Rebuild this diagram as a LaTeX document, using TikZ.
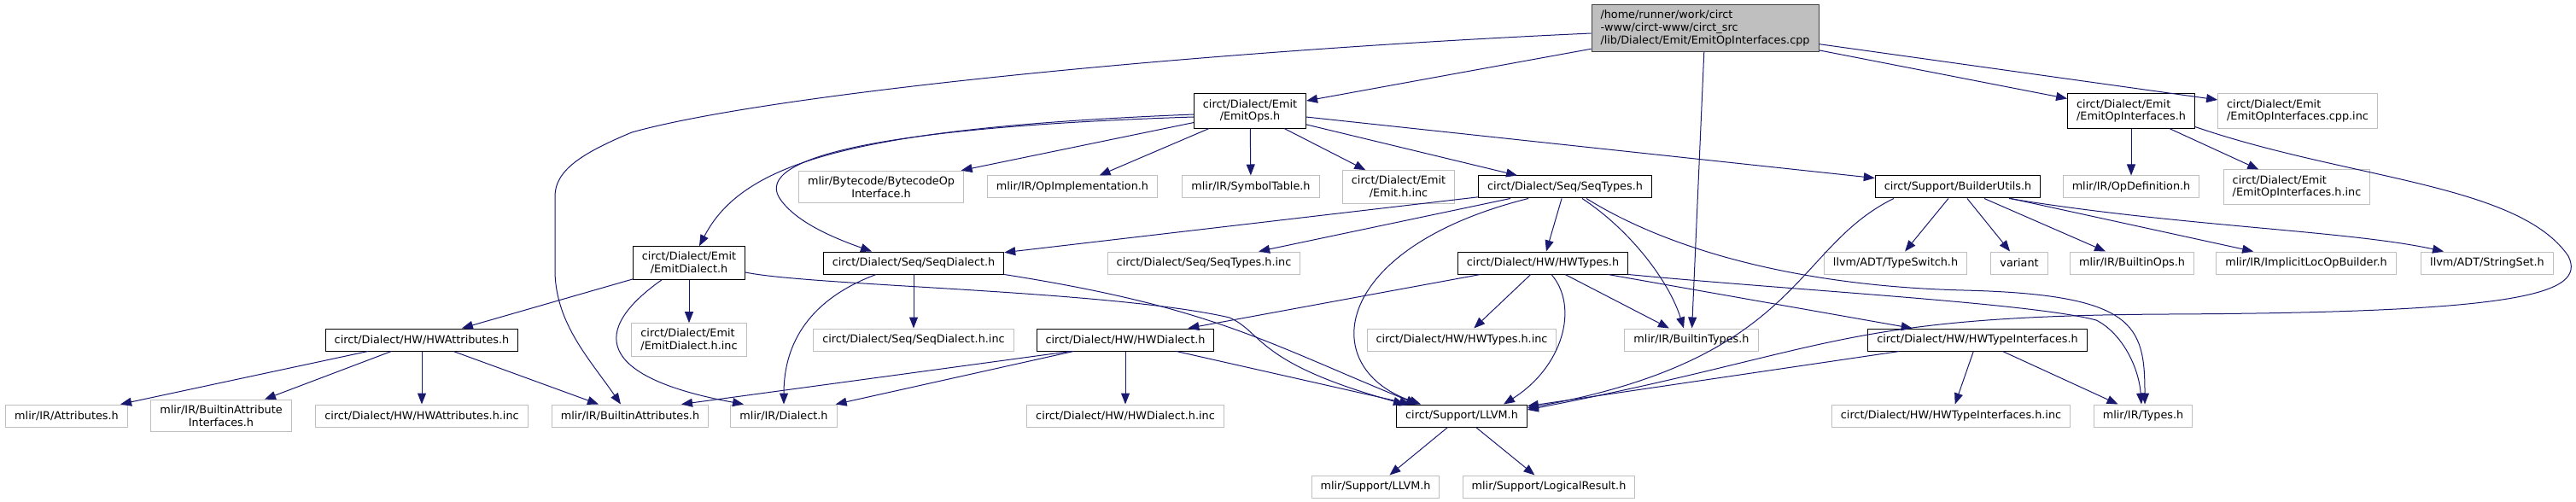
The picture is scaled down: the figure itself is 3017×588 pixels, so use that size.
\documentclass[tikz,border=0pt]{standalone}
\usepackage{fontspec}
\setmainfont{DejaVu Sans}
\usepackage{tikz}
\usetikzlibrary{arrows.meta}
\definecolor{midnight}{HTML}{191970}
\definecolor{extgrey}{HTML}{BFBFBF}
\definecolor{rootline}{HTML}{404040}

\begin{document}
\begin{tikzpicture}[x=1pt, y=-1pt,
    file/.style={draw=black, fill=white, line width=1pt, inner xsep=10.5pt, inner ysep=6.5pt,
        minimum height=26pt, font=\fontsize{12.8}{14.7}\selectfont},
    extfile/.style={file, draw=extgrey},
    mainfile/.style={file, draw=rootline, fill=extgrey, align=left},
    dep/.style={draw=midnight, line width=1pt, -{Triangle[length=13pt,width=10pt]}}]
    \useasboundingbox (0,0) rectangle (3017,588);

    % 1. The source file and the headers it pulls in directly
    \node[mainfile] (root) at (1997,33) {/home/runner/work/circt\\-www/circt-www/circt\_src\\/lib/Dialect/Emit/EmitOpInterfaces.cpp};
    \node[file, align=center] (emitops) at (1464,130) {circt/Dialect/Emit\\/EmitOps.h};
    \node[file, align=left] (eoih) at (2496,130) {circt/Dialect/Emit\\/EmitOpInterfaces.h};
    \node[extfile, align=left] (eoicppinc) at (2691,130) {circt/Dialect/Emit\\/EmitOpInterfaces.cpp.inc};

    % 2. Second row
    \node[extfile, align=center] (bytecode) at (1032,219) {mlir/Bytecode/BytecodeOp\\Interface.h};
    \node[extfile] (opimpl) at (1256,219) {mlir/IR/OpImplementation.h};
    \node[extfile] (symtab) at (1465,219) {mlir/IR/SymbolTable.h};
    \node[extfile, align=center] (emitinc) at (1638,219) {circt/Dialect/Emit\\/Emit.h.inc};
    \node[file] (seqtypes) at (1833,219) {circt/Dialect/Seq/SeqTypes.h};
    \node[file] (builder) at (2293,219) {circt/Support/BuilderUtils.h};
    \node[extfile] (opdef) at (2496,219) {mlir/IR/OpDefinition.h};
    \node[extfile, align=left] (eoihinc) at (2690,219) {circt/Dialect/Emit\\/EmitOpInterfaces.h.inc};

    % 3. Third row
    \node[file, align=center] (emitdialect) at (807,308) {circt/Dialect/Emit\\/EmitDialect.h};
    \node[file] (seqdialect) at (1070,308) {circt/Dialect/Seq/SeqDialect.h};
    \node[extfile] (seqtypesinc) at (1410,308) {circt/Dialect/Seq/SeqTypes.h.inc};
    \node[file] (hwtypes) at (1807,308) {circt/Dialect/HW/HWTypes.h};
    \node[extfile] (typeswitch) at (2220,308) {llvm/ADT/TypeSwitch.h};
    \node[extfile] (variant) at (2365,308) {variant};
    \node[extfile] (builtinops) at (2497,308) {mlir/IR/BuiltinOps.h};
    \node[extfile] (implicitloc) at (2701,308) {mlir/IR/ImplicitLocOpBuilder.h};
    \node[extfile] (stringset) at (2913,308) {llvm/ADT/StringSet.h};

    % 4. Fourth row
    \node[file] (hwattrs) at (494,398) {circt/Dialect/HW/HWAttributes.h};
    \node[extfile, align=left] (emitdialectinc) at (807,398) {circt/Dialect/Emit\\/EmitDialect.h.inc};
    \node[extfile] (seqdialectinc) at (1070,398) {circt/Dialect/Seq/SeqDialect.h.inc};
    \node[file] (hwdialect) at (1318,398) {circt/Dialect/HW/HWDialect.h};
    \node[extfile] (hwtypesinc) at (1712,398) {circt/Dialect/HW/HWTypes.h.inc};
    \node[extfile] (builtintypes) at (1981,398) {mlir/IR/BuiltinTypes.h};
    \node[file] (hwtypeifaces) at (2316,398) {circt/Dialect/HW/HWTypeInterfaces.h};

    % 5. Fifth row
    \node[extfile] (attributes) at (78,487) {mlir/IR/Attributes.h};
    \node[extfile, align=center] (attrifaces) at (259,487) {mlir/IR/BuiltinAttribute\\Interfaces.h};
    \node[extfile] (hwattrsinc) at (494,487) {circt/Dialect/HW/HWAttributes.h.inc};
    \node[extfile] (builtinattrs) at (738,487) {mlir/IR/BuiltinAttributes.h};
    \node[extfile] (dialect) at (918,487) {mlir/IR/Dialect.h};
    \node[extfile] (hwdialectinc) at (1318,487) {circt/Dialect/HW/HWDialect.h.inc};
    \node[file] (llvm) at (1712,487) {circt/Support/LLVM.h};
    \node[extfile] (hwtypeifacesinc) at (2285,487) {circt/Dialect/HW/HWTypeInterfaces.h.inc};
    \node[extfile] (types) at (2510,487) {mlir/IR/Types.h};

    % 6. Bottom row
    \node[extfile] (mlirllvm) at (1611,570) {mlir/Support/LLVM.h};
    \node[extfile] (logical) at (1814,570) {mlir/Support/LogicalResult.h};

    % 7. Edges from the source file
    \draw[dep] (root) -- (emitops);
    \draw[dep] ([yshift=-6pt]root.west) .. controls (1400,60) and (900,110) .. (740,155)
        .. controls (680,180) and (650,200) .. (650,230) -- (650,320)
        .. controls (652,380) and (690,420) .. ([xshift=-11pt]builtinattrs.north);
    \draw[dep] (root) -- (builtintypes);
    \draw[dep] (root) -- (eoih);
    \draw[dep] (root) -- (eoicppinc);

    % 8. Edges from EmitOps.h
    \draw[dep] ([yshift=-4pt]emitops.west) .. controls (1000,150) and (870,190) .. ([xshift=12pt]emitdialect.north);
    \draw[dep] ([yshift=-7pt]emitops.west) .. controls (1000,150) and (880,190) .. (915,235)
        .. controls (935,262) and (980,280) .. ([xshift=-49pt]seqdialect.north);
    \draw[dep] (emitops) -- (bytecode);
    \draw[dep] (emitops) -- (opimpl);
    \draw[dep] (emitops) -- (symtab);
    \draw[dep] (emitops) -- (emitinc);
    \draw[dep] (emitops) -- (seqtypes);
    \draw[dep] (emitops) -- (builder);

    % 9. Edges from EmitOpInterfaces.h
    \draw[dep] (eoih) -- (opdef);
    \draw[dep] (eoih) -- (eoihinc);
    \draw[dep] ([yshift=2pt]eoih.south east) .. controls (2750,210) and (2950,215) .. (3008,300)
        .. controls (3030,345) and (2950,366) .. (2540,368)
        .. controls (2150,370) and (2150,410) .. ([yshift=7pt]llvm.east);

    % 10. Edges from BuilderUtils.h
    \draw[dep] (builder) -- (typeswitch);
    \draw[dep] (builder) -- (variant);
    \draw[dep] (builder) -- (builtinops);
    \draw[dep] (builder) -- (implicitloc);
    \draw[dep] ([xshift=60pt]builder.south) .. controls (2550,265) and (2750,270) .. ([xshift=-51pt]stringset.north);
    \draw[dep] ([xshift=-75pt]builder.south) .. controls (2100,290) and (2110,420) .. ([yshift=9pt]llvm.east);

    % 11. Edges from SeqTypes.h
    \draw[dep] (seqtypes) -- (seqdialect);
    \draw[dep] (seqtypes) -- (seqtypesinc);
    \draw[dep] (seqtypes) -- (hwtypes);
    \draw[dep] ([xshift=-43pt]seqtypes.south) .. controls (1560,290) and (1540,430) .. ([xshift=-48pt]llvm.north);
    \draw[dep] ([xshift=20pt]seqtypes.south) .. controls (1910,270) and (1955,330) .. ([xshift=-9pt]builtintypes.north);
    \draw[dep] ([xshift=25pt]seqtypes.south) .. controls (1950,290) and (2100,335) .. (2300,340)
        .. controls (2500,345) and (2512,380) .. ([xshift=2pt]types.north);

    % 12. Edges from HWTypes.h
    \draw[dep] (hwtypes) -- (hwdialect);
    \draw[dep] (hwtypes) -- (hwtypesinc);
    \draw[dep] ([xshift=10pt]hwtypes.south) .. controls (1850,360) and (1830,430) .. ([xshift=49pt]llvm.north);
    \draw[dep] (hwtypes) -- (builtintypes);
    \draw[dep] (hwtypes) -- (hwtypeifaces);
    \draw[dep] (hwtypes.south east) .. controls (2100,340) and (2380,355) .. (2455,375)
        .. controls (2485,390) and (2505,430) .. ([xshift=-2pt]types.north);

    % 13. Edges from HWTypeInterfaces.h
    \draw[dep] (hwtypeifaces) -- (hwtypeifacesinc);
    \draw[dep] (hwtypeifaces) -- (types);
    \draw[dep] (hwtypeifaces) -- (llvm);

    % 14. Edges from SeqDialect.h and EmitDialect.h
    \draw[dep] (seqdialect) -- (seqdialectinc);
    \draw[dep] ([xshift=-44pt]seqdialect.south) .. controls (950,350) and (918,400) .. (dialect.north);
    \draw[dep] (seqdialect.south east) .. controls (1420,360) and (1480,400) .. ([xshift=-52pt]llvm.north);
    \draw[dep] (emitdialect) -- (hwattrs);
    \draw[dep] (emitdialect) -- (emitdialectinc);
    \draw[dep] ([xshift=-32pt]emitdialect.south) .. controls (680,395) and (715,445) .. ([xshift=-47pt]dialect.north);
    \draw[dep] ([yshift=-11pt]emitdialect.east) .. controls (950,335) and (1300,340) .. (1440,372)
        .. controls (1480,390) and (1470,425) .. ([xshift=-67pt]llvm.north);

    % 15. Edges from HWAttributes.h and HWDialect.h
    \draw[dep] (hwattrs) -- (attributes);
    \draw[dep] (hwattrs) -- (attrifaces);
    \draw[dep] (hwattrs) -- (hwattrsinc);
    \draw[dep] (hwattrs) -- (builtinattrs);
    \draw[dep] ([xshift=-64pt]hwdialect.south) -- ([xshift=60pt]builtinattrs.north);
    \draw[dep] (hwdialect) -- (dialect);
    \draw[dep] (hwdialect) -- (hwdialectinc);
    \draw[dep] (hwdialect) -- (llvm);

    % 16. Edges from circt/Support/LLVM.h
    \draw[dep] (llvm) -- (mlirllvm);
    \draw[dep] (llvm) -- (logical);
\end{tikzpicture}
\end{document}
